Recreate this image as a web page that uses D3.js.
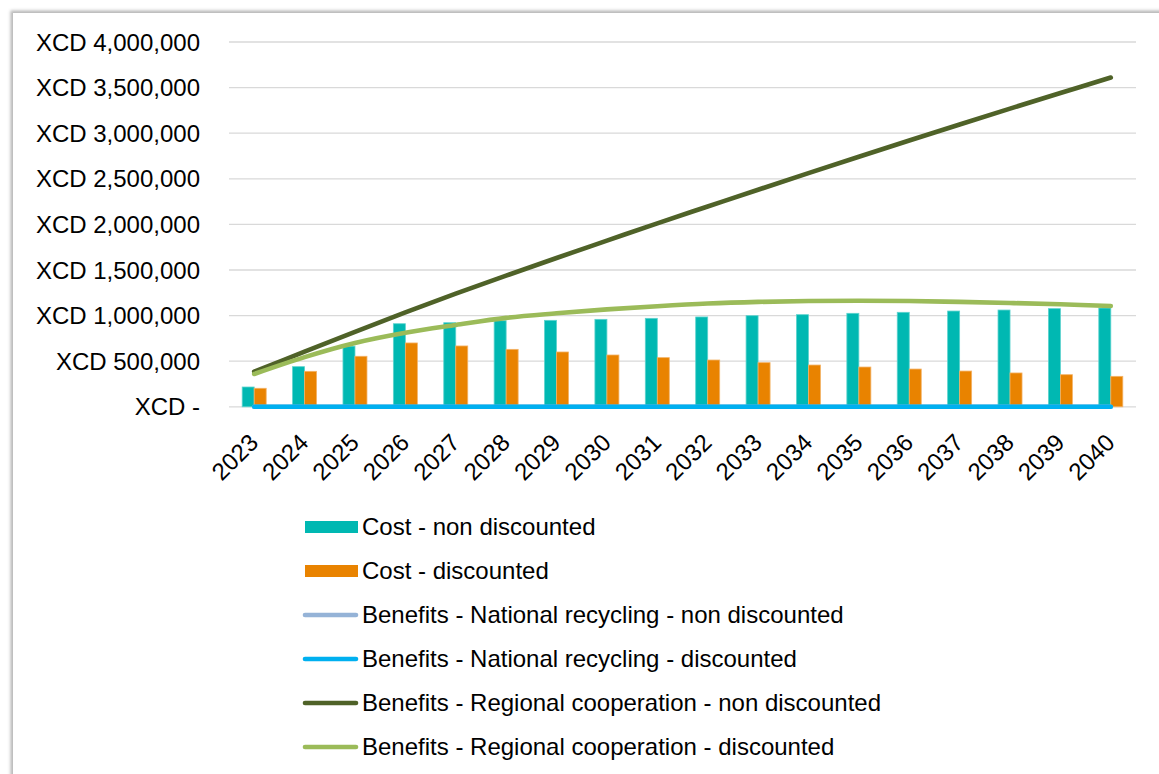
<!DOCTYPE html>
<html>
<head>
<meta charset="utf-8">
<script src="https://cdn.jsdelivr.net/npm/d3@7"></script>
<style>
  html, body { margin: 0; padding: 0; background: #ffffff; }
  svg { display: block; font-family: "Liberation Sans", Arial, sans-serif; }
</style>
</head>
<body>
<svg id="chart" width="1159" height="774"></svg>
<script>
// ---- data ----
const years = ["2023","2024","2025","2026","2027","2028","2029","2030","2031","2032","2033","2034","2035","2036","2037","2038","2039","2040"];
const costNonDiscounted = [217000, 440000, 665000, 911000, 922000, 944000, 948000, 959000, 970000, 985000, 999000, 1010000, 1025000, 1036000, 1050000, 1061000, 1076000, 1083000];
const costDiscounted = [203000, 389000, 554000, 700000, 667000, 630000, 601000, 568000, 539000, 513000, 484000, 458000, 436000, 414000, 392000, 371000, 352000, 334000];
const natRecyclingNonDiscounted = [0,0,0,0,0,0,0,0,0,0,0,0,0,0,0,0,0,0];
const natRecyclingDiscounted = [0,0,0,0,0,0,0,0,0,0,0,0,0,0,0,0,0,0];
const regCoopNonDiscounted = [385000, 605000, 822000, 1035000, 1240000, 1438000, 1632000, 1822000, 2012000, 2196000, 2380000, 2562000, 2742000, 2920000, 3096000, 3270000, 3441000, 3610000];
const regCoopDiscounted = [360000, 545000, 700000, 812000, 897000, 975000, 1025000, 1068000, 1103000, 1132000, 1150000, 1160000, 1163000, 1160000, 1150000, 1138000, 1124000, 1105000];
const yTicks = [0, 500000, 1000000, 1500000, 2000000, 2500000, 3000000, 3500000, 4000000];

const barSeries = [
  {name: "Cost - non discounted", values: costNonDiscounted, color: "#00B8B2", edge: "#5CD3CE"},
  {name: "Cost - discounted", values: costDiscounted, color: "#E98300", edge: "#F3B266"}
];
const lineSeries = [
  {name: "Benefits - National recycling - non discounted", values: natRecyclingNonDiscounted, color: "#95B3D7"},
  {name: "Benefits - National recycling - discounted", values: natRecyclingDiscounted, color: "#00B0F0"},
  {name: "Benefits - Regional cooperation - non discounted", values: regCoopNonDiscounted, color: "#4F6228"},
  {name: "Benefits - Regional cooperation - discounted", values: regCoopDiscounted, color: "#9BBB59"}
];

// ---- layout ----
const svg = d3.select("#chart");
const defs = svg.append("defs");
const f = defs.append("filter").attr("id","shadow").attr("x","-5%").attr("y","-5%").attr("width","110%").attr("height","110%");
f.append("feGaussianBlur").attr("stdDeviation", 1.6);

// frame with shadow (top/left visible)
svg.append("rect").attr("x", 10.5).attr("y", 10.5).attr("width", 1300).attr("height", 900)
  .attr("fill", "#b8b8b8").attr("filter", "url(#shadow)");
svg.append("rect").attr("x", 13).attr("y", 13).attr("width", 1300).attr("height", 900).attr("fill", "#ffffff");

const plotLeft = 229, plotRight = 1136, plotTop = 42, plotBottom = 406.8;

const x = d3.scaleBand().domain(years).range([plotLeft, plotRight]).padding(0);
const y = d3.scaleLinear().domain([0, 4000000]).range([plotBottom, plotTop]);
const xSub = d3.scaleBand().domain(barSeries.map(d => d.name)).range([-12, 12]).padding(0);
const cx = yr => x(yr) + x.bandwidth() / 2;

// gridlines
svg.append("g").selectAll("line").data(yTicks).join("line")
  .attr("x1", plotLeft).attr("x2", plotRight)
  .attr("y1", d => y(d)).attr("y2", d => y(d))
  .attr("stroke", "#D9D9D9").attr("stroke-width", 1.3);

// y labels
const fmt = d3.format(",");
svg.append("g").selectAll("text").data(yTicks).join("text")
  .attr("x", 200).attr("y", d => y(d)).attr("dy", "0.36em")
  .attr("text-anchor", "end").attr("font-size", 24).attr("fill", "#000")
  .text(d => d === 0 ? "XCD -" : "XCD " + fmt(d));

// x labels
svg.append("g").selectAll("text").data(years).join("text")
  .attr("transform", d => `translate(${cx(d) + 5.4},444) rotate(-45)`)
  .attr("text-anchor", "end").attr("font-size", 24).attr("fill", "#000")
  .text(d => d);

// bars
barSeries.forEach(s => {
  svg.append("g").selectAll("rect").data(years).join("rect")
    .attr("x", (d) => cx(d) + xSub(s.name))
    .attr("width", xSub.bandwidth())
    .attr("y", (d, i) => y(s.values[i]))
    .attr("height", (d, i) => y(0) - y(s.values[i]))
    .attr("fill", s.color)
    .attr("stroke", s.edge).attr("stroke-width", 0.8);
});

// lines
const line = d3.line().x(d => cx(d.year)).y(d => y(d.v)).curve(d3.curveCardinal.tension(0));
lineSeries.forEach(s => {
  svg.append("path")
    .datum(years.map((yr, i) => ({year: yr, v: s.values[i]})))
    .attr("d", line)
    .attr("fill", "none").attr("stroke", s.color).attr("stroke-width", 4.6)
    .attr("stroke-linecap", "round").attr("stroke-linejoin", "round");
});

// legend
const legendItems = [
  ...barSeries.map(s => ({name: s.name, color: s.color, type: "bar"})),
  ...lineSeries.map(s => ({name: s.name, color: s.color, type: "line"}))
];
const lg = svg.append("g");
legendItems.forEach((d, i) => {
  const yy = 526.5 + i * 44;
  if (d.type === "bar") {
    lg.append("rect").attr("x", 305).attr("y", yy - 5.5).attr("width", 53).attr("height", 12).attr("fill", d.color);
  } else {
    lg.append("line").attr("x1", 305).attr("x2", 356).attr("y1", yy + 0.5).attr("y2", yy + 0.5)
      .attr("stroke", d.color).attr("stroke-width", 4.6).attr("stroke-linecap", "round");
  }
  lg.append("text").attr("x", 362).attr("y", yy).attr("dy", "0.36em")
    .attr("font-size", 24).attr("fill", "#000").text(d.name);
});
</script>
</body>
</html>
